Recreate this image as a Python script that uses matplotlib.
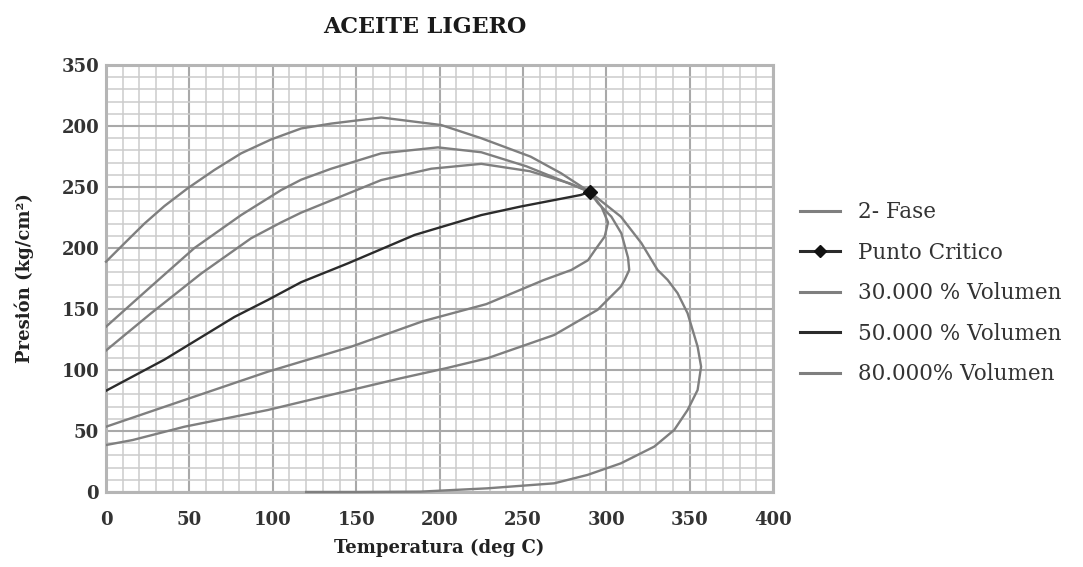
import matplotlib
matplotlib.use("Agg")
import matplotlib.pyplot as plt
from matplotlib.lines import Line2D

# ---- data ----
fase_x = [0, 11, 23, 35, 49, 65, 81, 99, 117, 135, 165, 201, 225, 254.6, 272.7, 290,
          308.7, 321, 330.7, 336.7, 342.7, 348.7, 354.7, 356.8, 354.7, 348.7, 340.7, 328.7,
          308.7, 288.7, 268.7, 228.6, 188.6, 150, 120]
fase_y = [188.8, 203.8, 220, 234.4, 249, 264, 277.6, 289, 298, 302, 307, 300.8, 290, 274.9,
          261.4, 246, 225.7, 204, 182, 173.9, 163, 146.5, 119.2, 102.7, 83.6, 67.2, 50.9,
          37.2, 23.5, 14, 7.1, 3, 0.3, 0, 0]

curve_a_x = [0, 27, 53, 81, 105, 117, 135, 165, 199, 225, 252, 272, 290]
curve_a_y = [135.5, 168.5, 200, 227, 247.5, 256, 265, 277.6, 282.5, 278.5, 267, 256, 246]

curve_b_x = [0, 27, 57, 87, 105, 117, 135, 165, 195, 225, 254, 278, 290]
curve_b_y = [116, 146.5, 179, 208, 221, 229, 239, 255.7, 265, 269, 263, 253, 246]

vol50_x = [0, 35, 47, 77, 97, 117, 145, 185, 225, 248.6, 284.7, 290]
vol50_y = [83, 108.5, 118.5, 143.5, 157.4, 172, 187.4, 210.7, 227, 234, 243.5, 246]

curve_d_x = [0, 47, 97, 147, 190, 228, 262, 279, 289, 293, 299, 301, 297, 290]
curve_d_y = [53.5, 75.4, 98.6, 119.1, 140, 154, 173.5, 182, 190, 198, 209.4, 221, 234, 246]

curve_e_x = [0, 16, 47, 97, 147, 176, 204, 228.6, 268.7, 294.7, 308.7, 311, 313.7, 313,
             309, 303, 295, 290]
curve_e_y = [38.5, 42.6, 53.5, 67.2, 83.6, 93, 101.5, 109.6, 128.7, 149.3, 168.4, 174, 182,
             192, 212, 225.7, 236.7, 246]

crit_x = [290]
crit_y = [246]

x_ticks = [0, 50, 100, 150, 200, 250, 300, 350, 400]
x_ticklabels = ["0", "50", "100", "150", "200", "250", "300", "350", "400"]
y_ticks = [0, 50, 100, 150, 200, 250, 300, 350]
y_ticklabels = ["0", "50", "100", "150", "200", "250", "200", "350"]

legend_labels = ["2- Fase", "Punto Critico", "30.000 % Volumen", "50.000 % Volumen",
                 "80.000% Volumen"]

# ---- styling ----
GRAY = "#7f7f7f"
DARK = "#2b2b2b"
serif = "DejaVu Serif"

fig = plt.figure(figsize=(10.83, 5.67), dpi=100)
ax = fig.add_axes([0.0979, 0.1323, 0.6160, 0.7530])

ax.set_xlim(0, 400)
ax.set_ylim(0, 350)

ax.set_xticks(range(0, 401, 10), minor=True)
ax.set_yticks(range(0, 351, 10), minor=True)
ax.set_xticks(x_ticks)
ax.set_yticks(y_ticks)
ax.set_xticklabels(x_ticklabels)
ax.set_yticklabels(y_ticklabels)
ax.grid(which="minor", color="#cccccc", linewidth=1.1)
ax.grid(which="major", color="#a9a9a9", linewidth=1.5)
ax.set_axisbelow(True)
ax.tick_params(which="both", length=0)
ax.tick_params(axis="x", pad=14)
ax.tick_params(axis="y", pad=5)
for lab in ax.get_xticklabels() + ax.get_yticklabels():
    lab.set_fontfamily(serif)
    lab.set_fontweight("bold")
    lab.set_fontsize(13)
    lab.set_color("#333333")
for sp in ax.spines.values():
    sp.set_color("#b5b5b5")
    sp.set_linewidth(2.2)

lw = 1.7
ax.plot(fase_x, fase_y, color=GRAY, lw=lw, clip_on=False, zorder=3)
ax.plot(curve_a_x, curve_a_y, color=GRAY, lw=lw, zorder=3)
ax.plot(curve_b_x, curve_b_y, color=GRAY, lw=lw, zorder=3)
ax.plot(vol50_x, vol50_y, color=DARK, lw=lw, zorder=4)
ax.plot(curve_d_x, curve_d_y, color=GRAY, lw=lw, zorder=3)
ax.plot(curve_e_x, curve_e_y, color=GRAY, lw=lw, zorder=3)
ax.plot(crit_x, crit_y, linestyle="none", marker="D", markersize=7, color="#111111", zorder=5)

ax.set_xlabel("Temperatura (deg C)", fontfamily=serif, fontweight="bold", fontsize=13,
              color="#222222", labelpad=7)
ax.set_ylabel("Presión (kg/cm²)", fontfamily=serif, fontweight="bold", fontsize=13,
              color="#222222", labelpad=20)
fig.text(0.392, 0.952, "ACEITE LIGERO", ha="center", va="center", fontfamily=serif,
         fontweight="bold", fontsize=16, color="#1a1a1a")

handles = [
    Line2D([], [], color=GRAY, lw=2.2),
    Line2D([], [], color=DARK, lw=2.2, marker="D", markersize=6, markerfacecolor="#111111",
           markeredgecolor="#111111"),
    Line2D([], [], color=GRAY, lw=2.2),
    Line2D([], [], color=DARK, lw=2.2),
    Line2D([], [], color=GRAY, lw=2.2),
]
leg = fig.legend(handles, legend_labels, loc="center left", bbox_to_anchor=(0.721, 0.483),
                 frameon=False, handlelength=1.86, labelspacing=0.86, handletextpad=0.84,
                 prop={"family": serif, "size": 15.5})
for t in leg.get_texts():
    t.set_color("#333333")

fig.savefig("out.png", dpi=100, facecolor="white")
